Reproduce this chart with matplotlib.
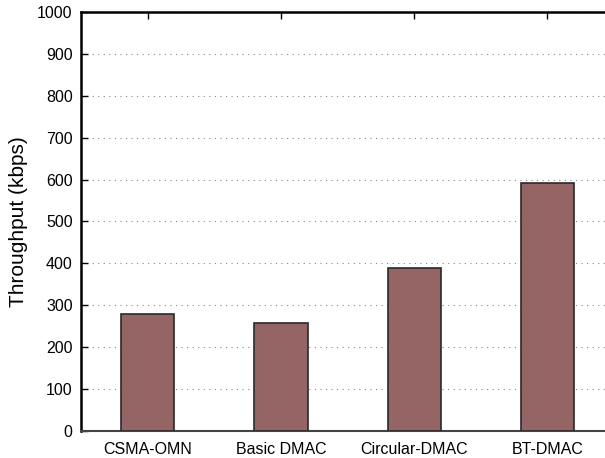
import numpy as np
import matplotlib
matplotlib.use('Agg')
from matplotlib import pyplot as plt

plt.rcParams['font.family'] = ['Liberation Sans', 'DejaVu Sans']

protocols = ['CSMA-OMN', 'Basic DMAC', 'Circular-DMAC', 'BT-DMAC']
throughput = [279, 257, 390, 591]
yticks = [0, 100, 200, 300, 400, 500, 600, 700, 800, 900, 1000]

fig = plt.figure(figsize=(6.05, 4.58), dpi=100)
# axes run past the right edge of the figure
ax = fig.add_axes([0.134, 0.059, 0.881, 0.915])

x = np.arange(1, len(protocols) + 1)
ax.bar(x, throughput, width=0.4, color='#956464', edgecolor='#2a2a2a',
       linewidth=1.2, zorder=3)

ax.set_xlim(0.5, 4.5)
ax.set_ylim(0, 1000)
ax.set_xticks(x)
ax.set_xticklabels(protocols)
ax.set_yticks(yticks)
ax.yaxis.grid(True, linestyle=(0, (1, 4)), color='#888888', linewidth=0.8, zorder=0)

ax.tick_params(axis='both', direction='in', labelsize=11.5, length=5,
               width=1, top=True, right=False, pad=6)
ax.tick_params(axis='x', pad=8)
ax.set_ylabel('Throughput (kbps)', fontsize=15, labelpad=7)

ax.spines['left'].set_linewidth(1.8)
ax.spines['top'].set_linewidth(1.8)
ax.spines['bottom'].set_linewidth(1.5)
ax.spines['bottom'].set_color('#444444')

fig.savefig('out.png', dpi=100)
